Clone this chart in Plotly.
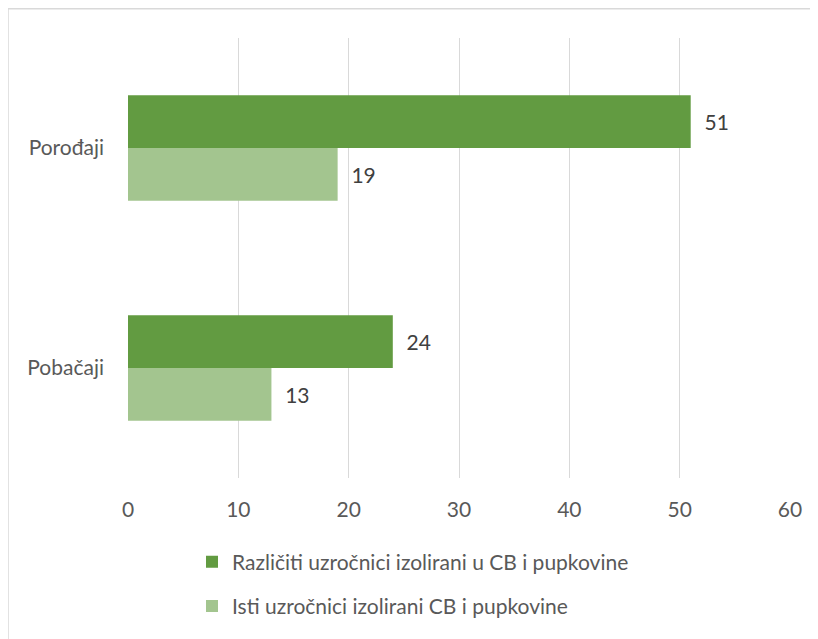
import plotly.graph_objects as go

categories = ["Porođaji", "Pobačaji"]
series_names = ["Različiti uzročnici izolirani u CB i pupkovine",
                "Isti uzročnici izolirani CB i pupkovine"]
values_diff = [51, 24]
values_same = [19, 13]
x_ticks = [0, 10, 20, 30, 40, 50, 60]

colors = ["#629B41", "#A3C58F"]
FONT = "Lato"
FS = 21
GRAY = "#595959"

fig = go.Figure()
for i, (name, vals) in enumerate(zip(series_names, [values_diff, values_same])):
    fig.add_trace(go.Bar(
        y=categories, x=vals, name=name, orientation="h",
        marker=dict(color=colors[i], line=dict(width=0)),
        text=vals, texttemplate="\u00a0\u00a0%{x}", textposition="outside",
        textfont=dict(family=FONT, size=FS, color="#404040"),
        cliponaxis=False, legendgroup=f"g{i}",
    ))

# page body adds 8px offset; coordinates below are in figure pixels
W, H = 810, 631
L, R, T, B = 120, 28, 30, 158
pw, ph = W - L - R, H - T - B

def px_x(p):
    return (p - L) / pw

def px_y(p):
    return (H - B - p) / ph

fig.update_layout(
    width=W, height=H,
    margin=dict(l=L, r=R, t=T, b=B),
    paper_bgcolor="white", plot_bgcolor="white",
    barmode="group", bargap=0.52, bargroupgap=0,
    font=dict(family=FONT, size=FS, color=GRAY),
    xaxis=dict(range=[0, 60], tickvals=x_ticks, showgrid=True,
               gridcolor="#D9D9D9", gridwidth=1, zeroline=False,
               showline=False, ticks="", ticklabelstandoff=17,
               tickfont=dict(family=FONT, size=FS, color=GRAY)),
    yaxis=dict(autorange="reversed", showgrid=False, showline=False,
               ticks="", ticklabelstandoff=23,
               tickfont=dict(family=FONT, size=FS, color=GRAY)),
    showlegend=True,
    legend=dict(orientation="v", x=px_x(184), xanchor="left",
                y=px_y(537), yanchor="top", tracegroupgap=14,
                font=dict(family=FONT, size=FS, color=GRAY),
                itemwidth=30, bgcolor="rgba(0,0,0,0)"),
    shapes=[dict(type="rect", xref="paper", yref="paper",
                 x0=px_x(0), x1=px_x(830), y0=px_y(0.5), y1=px_y(660),
                 line=dict(color="#D9D9D9", width=1.5), layer="below")],
)

fig.write_html("out.html")
